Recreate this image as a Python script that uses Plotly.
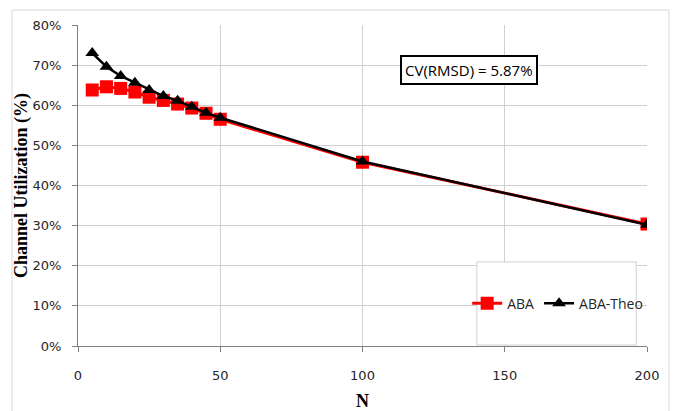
import plotly.graph_objects as go

# Number of stations
n_values = [5, 10, 15, 20, 25, 30, 35, 40, 45, 50, 100, 200]

# Channel utilization (%)
aba = [63.8, 64.6, 64.2, 63.3, 62.0, 61.2, 60.3, 59.3, 58.0, 56.5, 45.8, 30.4]
aba_theo = [73.0, 69.6, 67.3, 65.6, 63.8, 62.3, 61.1, 59.6, 58.1, 56.9, 46.0, 30.2]

x_ticks = [0, 50, 100, 150, 200]
y_ticks = [0, 10, 20, 30, 40, 50, 60, 70, 80]
y_tick_labels = [f"{v}%" for v in y_ticks]

cv_label = "CV(RMSD) = 5.87%"

fig = go.Figure()

fig.add_trace(go.Scatter(
    x=n_values, y=aba, name="ABA", mode="lines+markers",
    line=dict(color="#ff0000", width=3),
    marker=dict(symbol="square", size=13, color="#ff0000"),
))
fig.add_trace(go.Scatter(
    x=n_values, y=aba_theo, name="ABA-Theo", mode="lines+markers",
    line=dict(color="#000000", width=2.5),
    marker=dict(symbol="triangle-up", size=12, color="#000000"),
))

tick_font = dict(family="DejaVu Sans", size=13, color="#262626")
title_font = dict(family="Liberation Serif", size=18, color="#000000")

fig.update_xaxes(
    range=[0, 200], tickvals=x_ticks, ticks="outside", ticklen=5,
    tickcolor="#808080", showgrid=True, gridcolor="#d0d0d0", gridwidth=1,
    showline=True, linecolor="#808080", linewidth=1, zeroline=False,
    tickfont=tick_font, ticklabelstandoff=12, automargin=False,
    title=dict(text="<b>N</b>", font=title_font, standoff=14),
)
fig.update_yaxes(
    range=[0, 80], tickvals=y_ticks, ticktext=y_tick_labels,
    ticks="outside", ticklen=5, tickcolor="#808080",
    showgrid=True, gridcolor="#d0d0d0", gridwidth=1,
    showline=True, linecolor="#808080", linewidth=1, zeroline=False,
    tickfont=tick_font, ticklabelstandoff=8, automargin=False,
    title=dict(text="<b>Channel Utilization (%)</b>", font=title_font, standoff=0),
)

fig.add_annotation(
    x=137.4, y=68.8, xref="x", yref="y", text=cv_label, showarrow=False,
    font=dict(family="Open Sans", size=15, color="#000000"),
    bordercolor="#000000", borderwidth=2, borderpad=3, bgcolor="#ffffff",
)

# Outer chart frame and legend box
fig.add_shape(type="rect", xref="paper", yref="paper",
              x0=-0.116, x1=1.0387, y0=-0.4, y1=1.0467,
              line=dict(color="#d9d9d9", width=1), layer="below")
fig.add_shape(type="rect", xref="paper", yref="paper",
              x0=0.701, x1=0.981, y0=0.003, y1=0.262,
              line=dict(color="#d0d0d0", width=1), fillcolor="#ffffff", layer="above")

fig.update_layout(
    width=674, height=411,
    margin=dict(l=78, r=27, t=25, b=65),
    paper_bgcolor="#ffffff", plot_bgcolor="#ffffff",
    showlegend=True,
    legend=dict(
        orientation="h", x=0.843, y=0.132, xanchor="center", yanchor="middle",
        bgcolor="rgba(0,0,0,0)", borderwidth=0,
        font=dict(family="Open Sans", size=14, color="#262626"),
        itemwidth=30, tracegroupgap=0,
    ),
)

fig.write_html("out.html")
